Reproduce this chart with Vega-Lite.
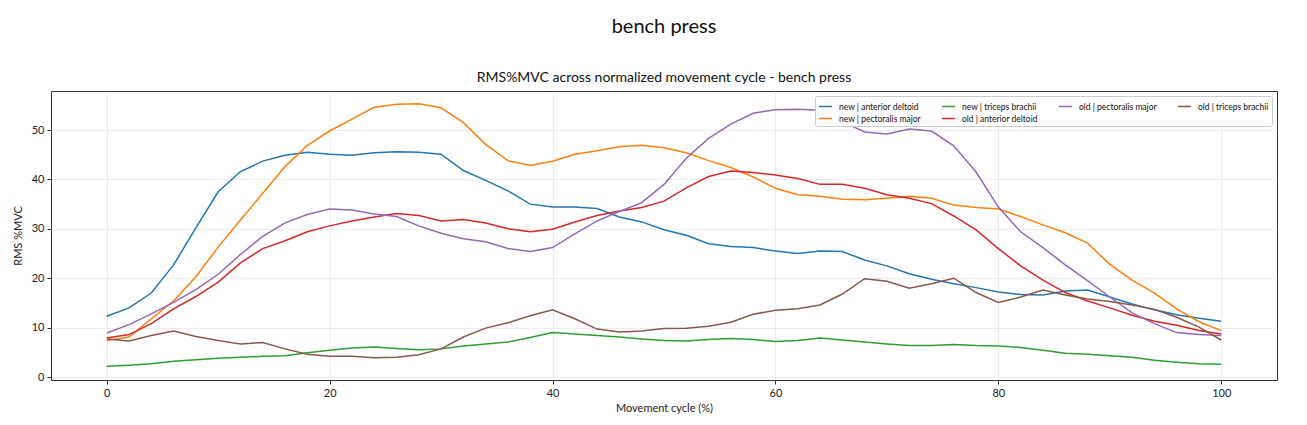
{
  "$schema": "https://vega.github.io/schema/vega-lite/v6.json",
  "autosize": {"type": "none"},
  "width": 1226,
  "height": 289,
  "padding": {"left": 51, "top": 91, "right": 30, "bottom": 45},
  "background": "white",
  "title": {
    "text": "bench press",
    "subtitle": "RMS%MVC across normalized movement cycle - bench press",
    "anchor": "middle",
    "font": "Lato",
    "fontSize": 20,
    "fontWeight": "normal",
    "color": "#111",
    "subtitleFont": "Lato",
    "subtitleFontSize": 14,
    "subtitleColor": "#111",
    "subtitlePadding": 34,
    "offset": 6
  },
  "config": {
    "font": "Lato",
    "view": {"stroke": "#333", "strokeWidth": 1},
    "axis": {
      "domain": false,
      "grid": true,
      "gridColor": "#e8e8e8",
      "gridWidth": 0.8,
      "tickColor": "#333",
      "tickSize": 4,
      "labelFont": "Lato",
      "labelFontSize": 11,
      "labelColor": "#222",
      "titleFont": "Lato",
      "titleFontSize": 11,
      "titleFontWeight": "normal",
      "titleColor": "#222"
    }
  },
  "data": {
    "values": [
      {"x":0,"new | anterior deltoid":12.3,"new | pectoralis major":7.4,"new | triceps brachii":2.2,"old | anterior deltoid":7.9,"old | pectoralis major":8.9,"old | triceps brachii":7.7},
      {"x":2,"new | anterior deltoid":14.0,"new | pectoralis major":8.1,"new | triceps brachii":2.4,"old | anterior deltoid":8.6,"old | pectoralis major":10.6,"old | triceps brachii":7.3},
      {"x":4,"new | anterior deltoid":17.0,"new | pectoralis major":11.8,"new | triceps brachii":2.7,"old | anterior deltoid":10.8,"old | pectoralis major":12.8,"old | triceps brachii":8.4},
      {"x":6,"new | anterior deltoid":22.7,"new | pectoralis major":15.4,"new | triceps brachii":3.2,"old | anterior deltoid":13.8,"old | pectoralis major":15.1,"old | triceps brachii":9.3},
      {"x":8,"new | anterior deltoid":30.2,"new | pectoralis major":20.3,"new | triceps brachii":3.5,"old | anterior deltoid":16.3,"old | pectoralis major":17.7,"old | triceps brachii":8.2},
      {"x":10,"new | anterior deltoid":37.5,"new | pectoralis major":26.3,"new | triceps brachii":3.8,"old | anterior deltoid":19.2,"old | pectoralis major":20.8,"old | triceps brachii":7.4},
      {"x":12,"new | anterior deltoid":41.6,"new | pectoralis major":31.8,"new | triceps brachii":4.0,"old | anterior deltoid":23.1,"old | pectoralis major":24.8,"old | triceps brachii":6.7},
      {"x":14,"new | anterior deltoid":43.7,"new | pectoralis major":37.2,"new | triceps brachii":4.2,"old | anterior deltoid":26.0,"old | pectoralis major":28.5,"old | triceps brachii":7.0},
      {"x":16,"new | anterior deltoid":44.9,"new | pectoralis major":42.6,"new | triceps brachii":4.3,"old | anterior deltoid":27.6,"old | pectoralis major":31.2,"old | triceps brachii":5.7},
      {"x":18,"new | anterior deltoid":45.5,"new | pectoralis major":46.9,"new | triceps brachii":4.9,"old | anterior deltoid":29.4,"old | pectoralis major":32.9,"old | triceps brachii":4.6},
      {"x":20,"new | anterior deltoid":45.1,"new | pectoralis major":49.8,"new | triceps brachii":5.4,"old | anterior deltoid":30.6,"old | pectoralis major":34.0,"old | triceps brachii":4.2},
      {"x":22,"new | anterior deltoid":44.9,"new | pectoralis major":52.2,"new | triceps brachii":5.9,"old | anterior deltoid":31.6,"old | pectoralis major":33.8,"old | triceps brachii":4.2},
      {"x":24,"new | anterior deltoid":45.4,"new | pectoralis major":54.6,"new | triceps brachii":6.1,"old | anterior deltoid":32.4,"old | pectoralis major":33.0,"old | triceps brachii":3.9},
      {"x":26,"new | anterior deltoid":45.6,"new | pectoralis major":55.2,"new | triceps brachii":5.8,"old | anterior deltoid":33.1,"old | pectoralis major":32.5,"old | triceps brachii":4.0},
      {"x":28,"new | anterior deltoid":45.5,"new | pectoralis major":55.3,"new | triceps brachii":5.5,"old | anterior deltoid":32.7,"old | pectoralis major":30.6,"old | triceps brachii":4.5},
      {"x":30,"new | anterior deltoid":45.1,"new | pectoralis major":54.5,"new | triceps brachii":5.7,"old | anterior deltoid":31.6,"old | pectoralis major":29.1,"old | triceps brachii":5.7},
      {"x":32,"new | anterior deltoid":41.8,"new | pectoralis major":51.5,"new | triceps brachii":6.3,"old | anterior deltoid":31.9,"old | pectoralis major":28.0,"old | triceps brachii":8.1},
      {"x":34,"new | anterior deltoid":39.8,"new | pectoralis major":47.1,"new | triceps brachii":6.7,"old | anterior deltoid":31.2,"old | pectoralis major":27.4,"old | triceps brachii":9.9},
      {"x":36,"new | anterior deltoid":37.7,"new | pectoralis major":43.8,"new | triceps brachii":7.1,"old | anterior deltoid":30.0,"old | pectoralis major":26.0,"old | triceps brachii":11.0},
      {"x":38,"new | anterior deltoid":35.0,"new | pectoralis major":42.8,"new | triceps brachii":8.0,"old | anterior deltoid":29.4,"old | pectoralis major":25.4,"old | triceps brachii":12.4},
      {"x":40,"new | anterior deltoid":34.4,"new | pectoralis major":43.7,"new | triceps brachii":9.0,"old | anterior deltoid":29.9,"old | pectoralis major":26.2,"old | triceps brachii":13.6},
      {"x":42,"new | anterior deltoid":34.4,"new | pectoralis major":45.1,"new | triceps brachii":8.7,"old | anterior deltoid":31.4,"old | pectoralis major":29.0,"old | triceps brachii":11.8},
      {"x":44,"new | anterior deltoid":34.1,"new | pectoralis major":45.8,"new | triceps brachii":8.4,"old | anterior deltoid":32.7,"old | pectoralis major":31.6,"old | triceps brachii":9.7},
      {"x":46,"new | anterior deltoid":32.4,"new | pectoralis major":46.6,"new | triceps brachii":8.1,"old | anterior deltoid":33.6,"old | pectoralis major":33.5,"old | triceps brachii":9.1},
      {"x":48,"new | anterior deltoid":31.4,"new | pectoralis major":46.9,"new | triceps brachii":7.7,"old | anterior deltoid":34.3,"old | pectoralis major":35.3,"old | triceps brachii":9.3},
      {"x":50,"new | anterior deltoid":29.8,"new | pectoralis major":46.4,"new | triceps brachii":7.4,"old | anterior deltoid":35.6,"old | pectoralis major":39.0,"old | triceps brachii":9.8},
      {"x":52,"new | anterior deltoid":28.7,"new | pectoralis major":45.4,"new | triceps brachii":7.3,"old | anterior deltoid":38.3,"old | pectoralis major":44.3,"old | triceps brachii":9.9},
      {"x":54,"new | anterior deltoid":27.0,"new | pectoralis major":43.8,"new | triceps brachii":7.6,"old | anterior deltoid":40.6,"old | pectoralis major":48.3,"old | triceps brachii":10.3},
      {"x":56,"new | anterior deltoid":26.4,"new | pectoralis major":42.4,"new | triceps brachii":7.8,"old | anterior deltoid":41.7,"old | pectoralis major":51.2,"old | triceps brachii":11.1},
      {"x":58,"new | anterior deltoid":26.2,"new | pectoralis major":40.5,"new | triceps brachii":7.6,"old | anterior deltoid":41.4,"old | pectoralis major":53.4,"old | triceps brachii":12.7},
      {"x":60,"new | anterior deltoid":25.5,"new | pectoralis major":38.2,"new | triceps brachii":7.2,"old | anterior deltoid":40.9,"old | pectoralis major":54.1,"old | triceps brachii":13.5},
      {"x":62,"new | anterior deltoid":25.0,"new | pectoralis major":36.9,"new | triceps brachii":7.4,"old | anterior deltoid":40.2,"old | pectoralis major":54.2,"old | triceps brachii":13.8},
      {"x":64,"new | anterior deltoid":25.5,"new | pectoralis major":36.6,"new | triceps brachii":7.9,"old | anterior deltoid":39.0,"old | pectoralis major":54.0,"old | triceps brachii":14.6},
      {"x":66,"new | anterior deltoid":25.4,"new | pectoralis major":36.0,"new | triceps brachii":7.5,"old | anterior deltoid":39.0,"old | pectoralis major":51.7,"old | triceps brachii":16.8},
      {"x":68,"new | anterior deltoid":23.7,"new | pectoralis major":35.9,"new | triceps brachii":7.1,"old | anterior deltoid":38.2,"old | pectoralis major":49.6,"old | triceps brachii":19.9},
      {"x":70,"new | anterior deltoid":22.5,"new | pectoralis major":36.2,"new | triceps brachii":6.7,"old | anterior deltoid":36.9,"old | pectoralis major":49.2,"old | triceps brachii":19.4},
      {"x":72,"new | anterior deltoid":20.9,"new | pectoralis major":36.6,"new | triceps brachii":6.4,"old | anterior deltoid":36.2,"old | pectoralis major":50.2,"old | triceps brachii":18.0},
      {"x":74,"new | anterior deltoid":19.8,"new | pectoralis major":36.2,"new | triceps brachii":6.4,"old | anterior deltoid":35.1,"old | pectoralis major":49.8,"old | triceps brachii":18.9},
      {"x":76,"new | anterior deltoid":18.9,"new | pectoralis major":34.8,"new | triceps brachii":6.6,"old | anterior deltoid":32.6,"old | pectoralis major":46.8,"old | triceps brachii":20.0},
      {"x":78,"new | anterior deltoid":18.1,"new | pectoralis major":34.3,"new | triceps brachii":6.4,"old | anterior deltoid":29.8,"old | pectoralis major":41.5,"old | triceps brachii":17.1},
      {"x":80,"new | anterior deltoid":17.2,"new | pectoralis major":34.0,"new | triceps brachii":6.3,"old | anterior deltoid":26.0,"old | pectoralis major":34.4,"old | triceps brachii":15.1},
      {"x":82,"new | anterior deltoid":16.7,"new | pectoralis major":32.5,"new | triceps brachii":6.0,"old | anterior deltoid":22.5,"old | pectoralis major":29.4,"old | triceps brachii":16.2},
      {"x":84,"new | anterior deltoid":16.6,"new | pectoralis major":30.8,"new | triceps brachii":5.4,"old | anterior deltoid":19.6,"old | pectoralis major":26.2,"old | triceps brachii":17.6},
      {"x":86,"new | anterior deltoid":17.4,"new | pectoralis major":29.2,"new | triceps brachii":4.8,"old | anterior deltoid":17.1,"old | pectoralis major":22.7,"old | triceps brachii":16.6},
      {"x":88,"new | anterior deltoid":17.6,"new | pectoralis major":27.1,"new | triceps brachii":4.6,"old | anterior deltoid":15.4,"old | pectoralis major":19.5,"old | triceps brachii":15.8},
      {"x":90,"new | anterior deltoid":16.2,"new | pectoralis major":22.8,"new | triceps brachii":4.3,"old | anterior deltoid":14.0,"old | pectoralis major":16.2,"old | triceps brachii":15.3},
      {"x":92,"new | anterior deltoid":14.8,"new | pectoralis major":19.6,"new | triceps brachii":4.0,"old | anterior deltoid":12.5,"old | pectoralis major":13.0,"old | triceps brachii":14.6},
      {"x":94,"new | anterior deltoid":13.6,"new | pectoralis major":17.0,"new | triceps brachii":3.4,"old | anterior deltoid":11.3,"old | pectoralis major":10.8,"old | triceps brachii":13.7},
      {"x":96,"new | anterior deltoid":12.6,"new | pectoralis major":13.8,"new | triceps brachii":3.0,"old | anterior deltoid":10.5,"old | pectoralis major":9.0,"old | triceps brachii":12.1},
      {"x":98,"new | anterior deltoid":11.9,"new | pectoralis major":11.2,"new | triceps brachii":2.7,"old | anterior deltoid":9.4,"old | pectoralis major":8.6,"old | triceps brachii":10.1},
      {"x":100,"new | anterior deltoid":11.3,"new | pectoralis major":9.4,"new | triceps brachii":2.6,"old | anterior deltoid":8.7,"old | pectoralis major":8.4,"old | triceps brachii":7.5}
    ]
  },
  "transform": [
    {"fold": ["new | anterior deltoid","new | pectoralis major","new | triceps brachii","old | anterior deltoid","old | pectoralis major","old | triceps brachii"], "as": ["series","value"]}
  ],
  "mark": {"type": "line", "strokeWidth": 1.5, "clip": true},
  "encoding": {
    "x": {
      "field": "x", "type": "quantitative",
      "scale": {"domain": [-5, 105], "nice": false, "zero": false},
      "axis": {"values": [0,20,40,60,80,100], "title": "Movement cycle (%)", "titlePadding": 4, "labelPadding": 3}
    },
    "y": {
      "field": "value", "type": "quantitative",
      "scale": {"domain": [-0.6, 57.9], "nice": false, "zero": false},
      "axis": {"values": [0,10,20,30,40,50], "title": "RMS %MVC", "titlePadding": 8, "labelPadding": 3}
    },
    "color": {
      "field": "series", "type": "nominal",
      "scale": {
        "domain": ["new | anterior deltoid","new | triceps brachii","old | pectoralis major","old | triceps brachii","new | pectoralis major","old | anterior deltoid"],
        "range": ["#1f77b4","#2ca02c","#9467bd","#8c564b","#ff7f0e","#d62728"]
      },
      "legend": {
        "title": null,
        "orient": "top-right",
        "direction": "horizontal",
        "offset": 5,
        "columns": 4,
        "symbolType": "stroke",
        "symbolSize": 169,
        "symbolStrokeWidth": 1.5,
        "labelFont": "Lato",
        "labelFontSize": 8.5,
        "labelColor": "#111",
        "labelLimit": 200,
        "labelOffset": 6,
        "columnPadding": 18,
        "rowPadding": 0,
        "padding": 3,
        "fillColor": "white",
        "strokeColor": "#cccccc",
        "cornerRadius": 2
      }
    }
  }
}
